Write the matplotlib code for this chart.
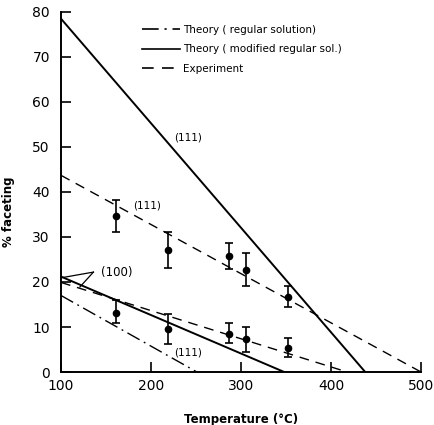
import matplotlib.pyplot as plt

# theory lines: (T at start, % at start) -> (T at end, % at end)
T_MOD_111 = [100, 438]
F_MOD_111 = [78.5, 0]
T_MOD_100 = [100, 348]
F_MOD_100 = [21.2, 0]
T_REG_111 = [100, 251]
F_REG_111 = [17.0, 0]

# experimental fits
T_EXP_111 = [100, 500]
F_EXP_111 = [43.7, 0]
T_EXP_100 = [100, 418]
F_EXP_100 = [19.9, 0]

# measured points
T_PTS = [161, 219, 287, 306, 352]
F_PTS_111 = [34.7, 27.0, 25.8, 22.7, 16.7]
LO_111 = [31.0, 23.0, 22.8, 19.2, 14.5]
HI_111 = [38.2, 31.0, 28.6, 26.4, 19.0]
F_PTS_100 = [13.0, 9.6, 8.4, 7.3, 5.4]
LO_100 = [10.8, 6.2, 6.5, 4.5, 3.4]
HI_100 = [16.1, 12.9, 10.8, 10.1, 7.5]

X_TICKS = [100, 200, 300, 400, 500]
Y_TICKS = [0, 10, 20, 30, 40, 50, 60, 70, 80]

DASH = (7, 5)
DASHDOT = (10, 3.5, 1.3, 3.5)

plt.rcParams["font.family"] = "DejaVu Sans"

fig = plt.figure(figsize=(4.34, 4.25), dpi=100)
ax = fig.add_axes([0.1406, 0.1247, 0.8295, 0.8471])

ax.plot(T_MOD_111, F_MOD_111, color="black", lw=1.4, label="Theory ( modified regular sol.)")
ax.plot(T_MOD_100, F_MOD_100, color="black", lw=1.4)
ax.plot(T_REG_111, F_REG_111, color="black", lw=1.0, dashes=DASHDOT, label="Theory ( regular solution)")
ax.plot(T_EXP_111, F_EXP_111, color="black", lw=1.0, dashes=DASH, label="Experiment")
ax.plot(T_EXP_100, F_EXP_100, color="black", lw=1.0, dashes=DASH)

for f, lo, hi in [(F_PTS_111, LO_111, HI_111), (F_PTS_100, LO_100, HI_100)]:
    err = [[v - l for v, l in zip(f, lo)], [h - v for v, h in zip(f, hi)]]
    ax.errorbar(T_PTS, f, yerr=err, fmt="o", color="black", ms=4.5,
                capsize=3, elinewidth=1.2, capthick=1.2, zorder=4)

ax.text(241, 52, "(111)", fontsize=7.5, ha="center", va="center")
ax.text(196, 37, "(111)", fontsize=7.5, ha="center", va="center")
ax.text(241, 4.3, "(111)", fontsize=7.5, ha="center", va="center")
ax.text(162, 22, "(100)", fontsize=8.5, ha="center", va="center")
ax.plot([136, 102], [22.2, 21.0], color="black", lw=0.9)
ax.plot([136, 121], [22.2, 18.9], color="black", lw=0.9)

handles, labels = ax.get_legend_handles_labels()
order = [1, 0, 2]
leg = ax.legend([handles[i] for i in order], [labels[i] for i in order],
                loc="upper left", bbox_to_anchor=(0.2, 0.99), frameon=False,
                fontsize=7.5, handlelength=3.6, handletextpad=0.3, labelspacing=0.9)
for line in leg.get_lines():
    line.set_linewidth(1.2)

ax.set_xlim(100, 500)
ax.set_ylim(0, 80)
ax.set_xticks(X_TICKS)
ax.set_yticks(Y_TICKS)
ax.tick_params(direction="in", length=7, width=1.2, labelsize=10, pad=5)
ax.tick_params(axis="y", pad=8)
ax.spines["top"].set_visible(False)
ax.spines["right"].set_visible(False)
ax.spines["left"].set_linewidth(1.4)
ax.spines["bottom"].set_linewidth(1.4)
ax.spines["left"].set_zorder(5)

ax.set_xlabel("Temperature (°C)", fontsize=8.5, fontweight="bold")
ax.set_ylabel("% faceting", fontsize=8.5, fontweight="bold")
ax.xaxis.set_label_coords(0.5, -0.115)
ax.yaxis.set_label_coords(-0.128, 0.444)

fig.savefig("out.png", dpi=100)
